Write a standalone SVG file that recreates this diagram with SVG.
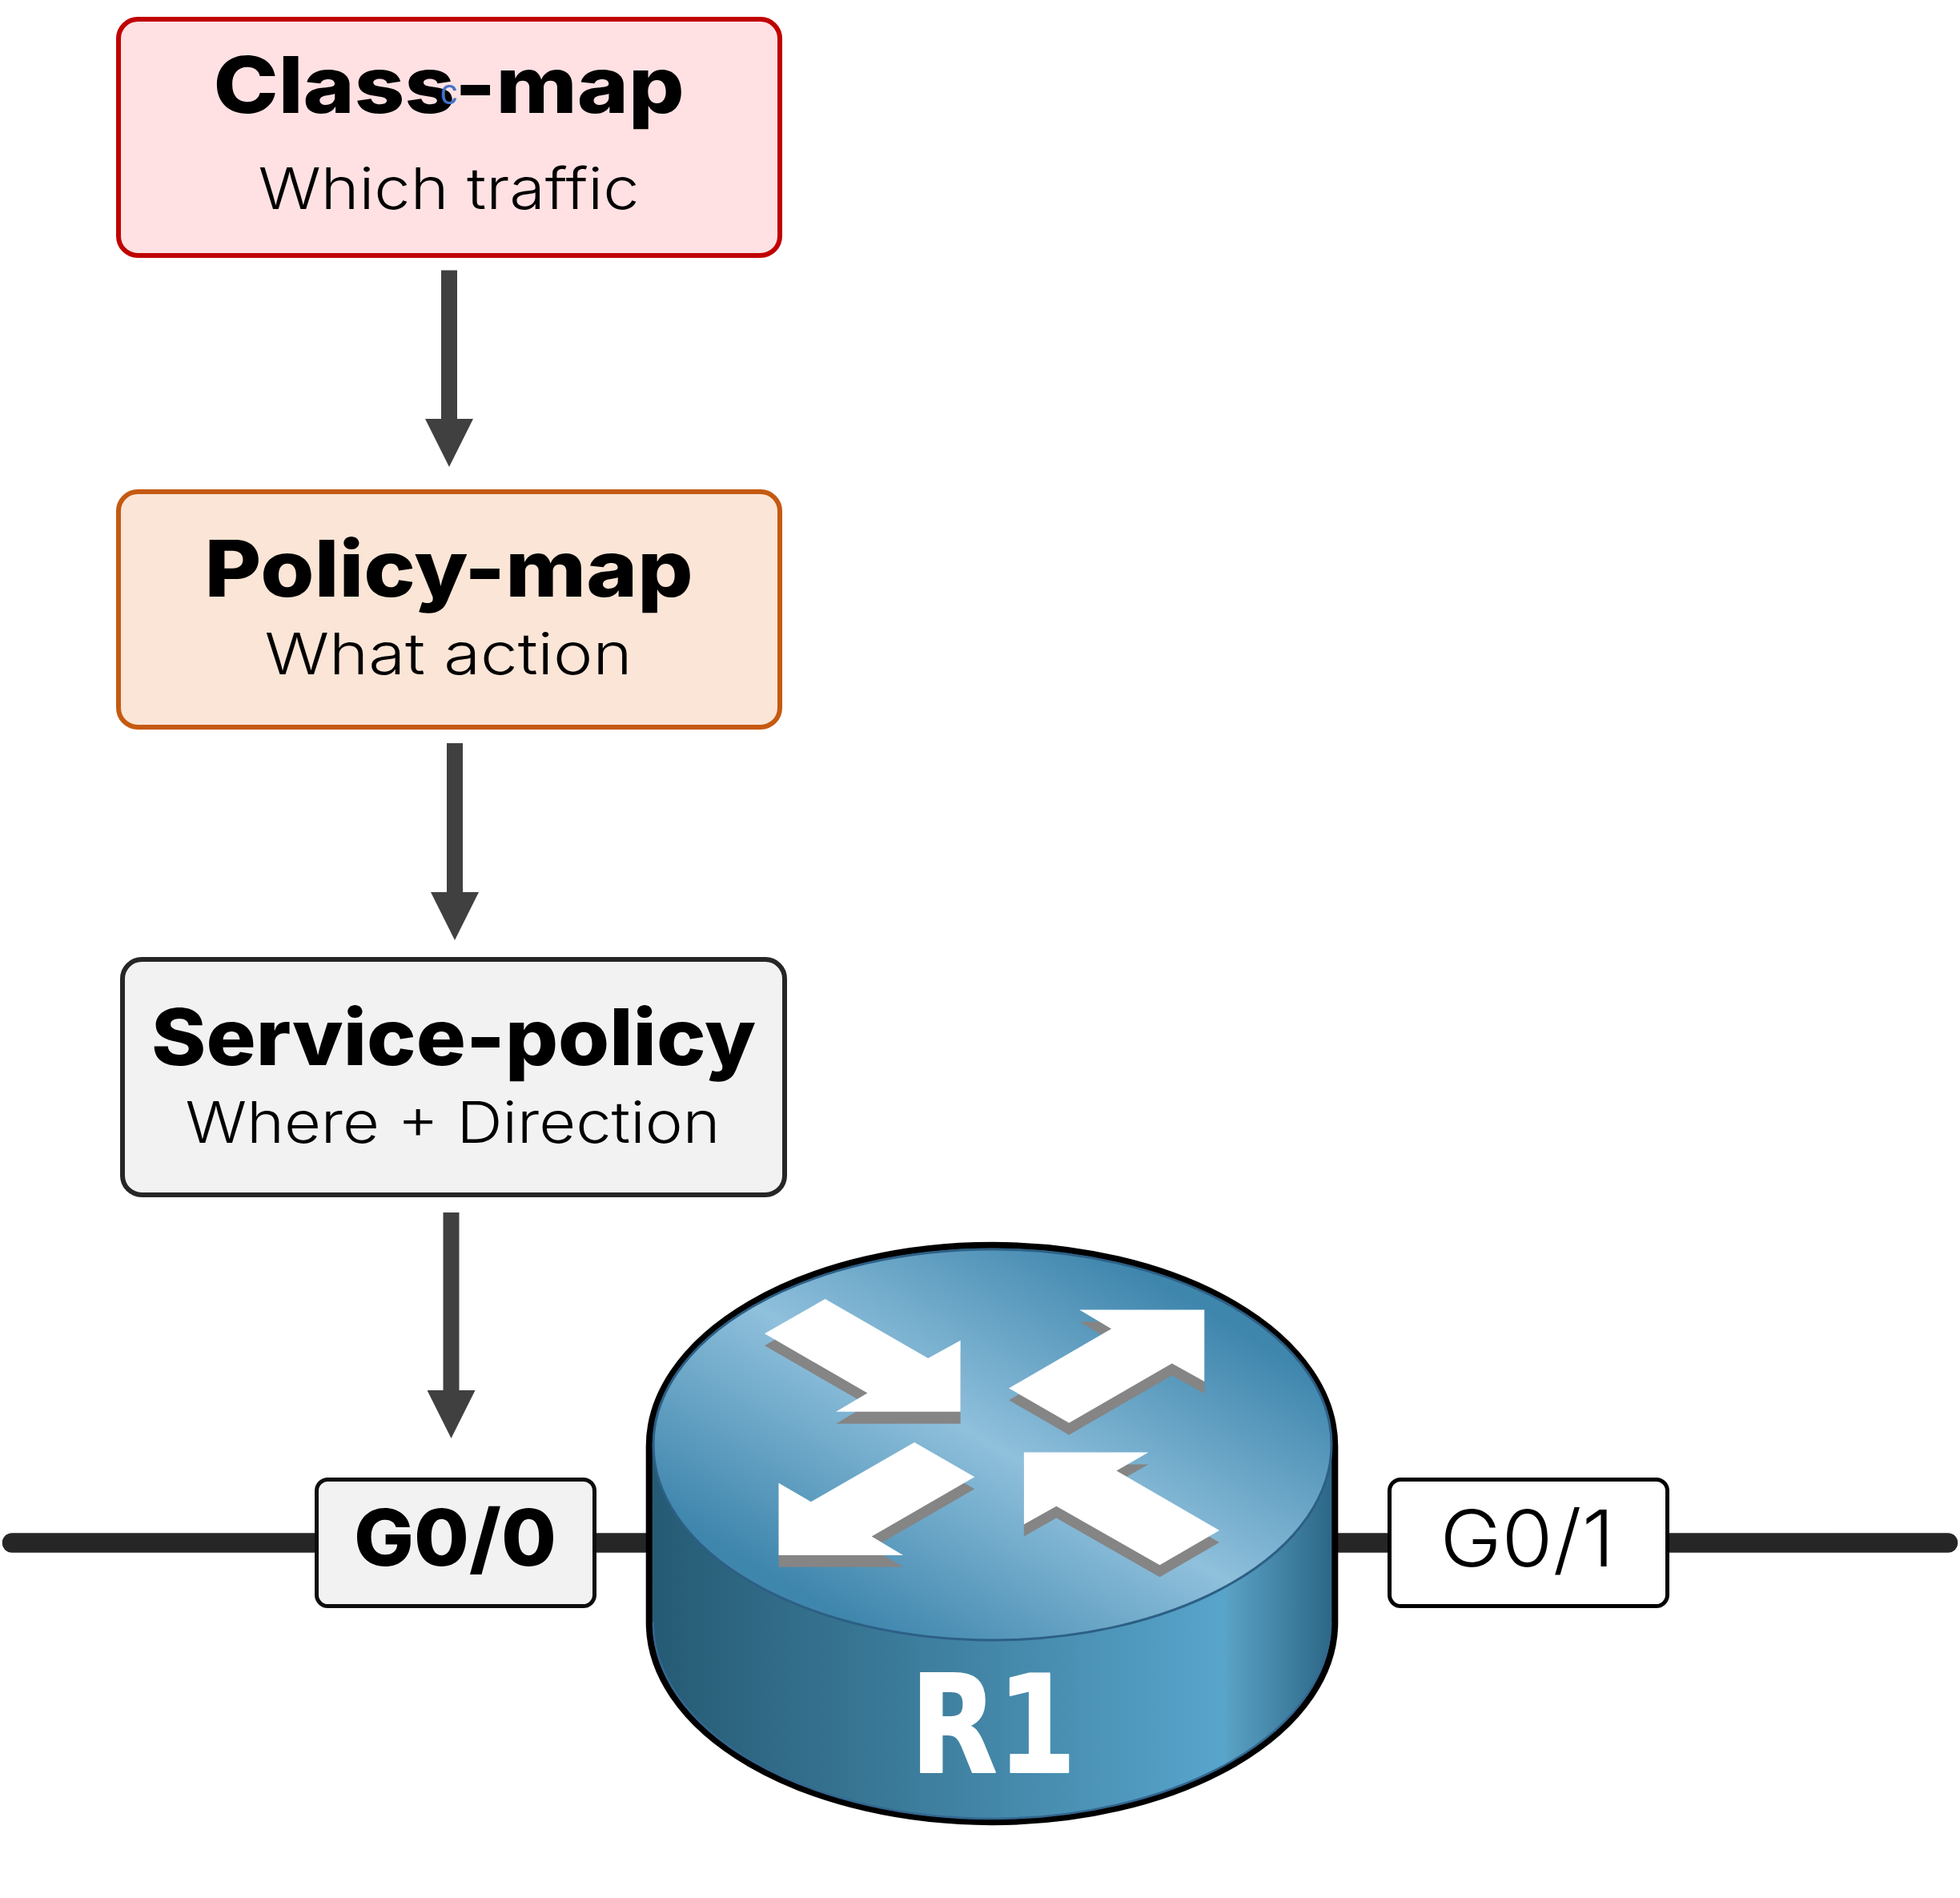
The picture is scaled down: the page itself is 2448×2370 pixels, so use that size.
<svg xmlns="http://www.w3.org/2000/svg" width="2448" height="2370" viewBox="0 0 2448 2370">
<style>
.box{stroke-width:6}
.tag{stroke-width:5}
.h{font-family:"Inter","Noto Sans","Liberation Sans",sans-serif;font-weight:800;font-size:98px;fill:#000}
.s{font-family:"Inter","Noto Sans","Liberation Sans",sans-serif;font-weight:300;font-size:72px;fill:#000}
.shaft{stroke:#404040;stroke-width:20;fill:none;marker-end:url(#head)}
.link{stroke:#262626;stroke-width:24.5;stroke-linecap:round;fill:none}
.arrow{fill:#fff}
.shade{fill:#858585}
</style>
<defs>
<marker id="head" markerUnits="userSpaceOnUse" markerWidth="60" markerHeight="60" viewBox="0 0 60 60" refX="0" refY="30" orient="auto"><path d="M0 0L60 30L0 60Z" fill="#404040"/></marker>
<linearGradient id="topG" gradientUnits="userSpaceOnUse" x1="1379" y1="1563" x2="1099" y2="2045">
<stop offset="0" stop-color="#3f86ad"/><stop offset="0.5" stop-color="#8fc0dc"/><stop offset="1" stop-color="#3f86ad"/>
</linearGradient>
<linearGradient id="sideG" gradientUnits="userSpaceOnUse" x1="811" y1="0" x2="1667" y2="0">
<stop offset="0" stop-color="#255a73"/><stop offset="0.841" stop-color="#58a5cc"/><stop offset="0.842" stop-color="#5aa2c5"/><stop offset="1" stop-color="#2b6585"/>
</linearGradient>
<polygon id="a1" points="427,205 646,354 715,309 715,488 450,488 517,441 298,292"/>
<polygon id="a2" points="968,232 1234,232 1234,412 1165,367 946,516 818,429 1036,280"/>
<polygon id="a3" points="617,565 745,652 526,801 593,848 328,848 328,667 397,714"/>
<polygon id="a4" points="850,590 1115,590 1047,636 1266,786 1139,873 919,725 850,771"/>
</defs>
<rect width="2448" height="2370" fill="#fff"/>
<g id="connectors">
<line class="link" x1="15" y1="1926.5" x2="2433" y2="1926.5"/>
<line class="shaft" x1="561" y1="337.5" x2="561" y2="523"/>
<line class="shaft" x1="568" y1="928" x2="568" y2="1114"/>
<line class="shaft" x1="563.5" y1="1514" x2="563.5" y2="1736"/>
</g>
<g id="class-map">
<rect class="box" x="148" y="24" width="826" height="295" rx="24" fill="#ffe1e3" stroke="#c00000"/>
<text class="h" x="560.500" y="141" text-anchor="middle" textLength="588" lengthAdjust="spacingAndGlyphs">Class-map</text>
<text x="550" y="130" font-family="Liberation Sans,sans-serif" font-size="44" fill="#4472c4" textLength="21" lengthAdjust="spacingAndGlyphs">c</text>
<text class="s" x="560.500" y="261" text-anchor="middle" textLength="476" lengthAdjust="spacingAndGlyphs">Which traffic</text>
</g>
<g id="policy-map">
<rect class="box" x="148" y="614" width="826" height="294" rx="24" fill="#fbe5d6" stroke="#c55a11"/>
<text class="h" x="560.500" y="745" text-anchor="middle" textLength="610" lengthAdjust="spacingAndGlyphs">Policy-map</text>
<text class="s" x="560" y="842" text-anchor="middle" textLength="459" lengthAdjust="spacingAndGlyphs">What action</text>
</g>
<g id="service-policy">
<rect class="box" x="153" y="1198" width="827" height="294" rx="24" fill="#f2f2f2" stroke="#262626"/>
<text class="h" x="566.500" y="1330" text-anchor="middle" textLength="755" lengthAdjust="spacingAndGlyphs">Service-policy</text>
<text class="s" x="565.500" y="1427" text-anchor="middle" textLength="668" lengthAdjust="spacingAndGlyphs">Where + Direction</text>
</g>
<g id="g0-0">
<rect class="tag" x="395.500" y="1847.500" width="347" height="158" rx="14" fill="#f2f2f2" stroke="#0d0d0d"/>
<text class="h" x="568.500" y="1955" text-anchor="middle" textLength="253" lengthAdjust="spacingAndGlyphs">G0/0</text>
</g>
<g id="g0-1">
<rect class="tag" x="1735.500" y="1847.500" width="347" height="158" rx="14" fill="#fff" stroke="#000"/>
<text class="s" x="1907.500" y="1955.500" text-anchor="middle" style="font-size:97px" textLength="218" lengthAdjust="spacingAndGlyphs">G0/1</text>
</g>
<g id="r1">
<path d="M810.700 1806A428 251 0 0 1 1667.300 1806V2026A428 249 0 0 1 810.700 2026Z" fill="url(#sideG)" stroke="#000" stroke-width="8"/>
<path d="M816 2026A423 245 0 0 0 1662 2026" fill="none" stroke="#33668f" stroke-width="2.500"/>
<ellipse cx="1239.500" cy="1804" rx="423.500" ry="244" fill="url(#topG)" stroke="#2d5f85" stroke-width="3"/>
<g transform="translate(780 1520) scale(0.5869 0.4975)">
<g class="shade" transform="translate(0 30)"><use href="#a1"/><use href="#a2"/><use href="#a3"/><use href="#a4"/></g>
<g class="arrow"><use href="#a1"/><use href="#a2"/><use href="#a3"/><use href="#a4"/></g>
</g>
<text x="1240.500" y="2213" text-anchor="middle" font-family="DejaVu Sans,sans-serif" font-weight="700" font-size="170" fill="#fff" stroke="#fff" stroke-width="2" stroke-linejoin="round" textLength="207" lengthAdjust="spacingAndGlyphs">R1</text>
</g>
</svg>
